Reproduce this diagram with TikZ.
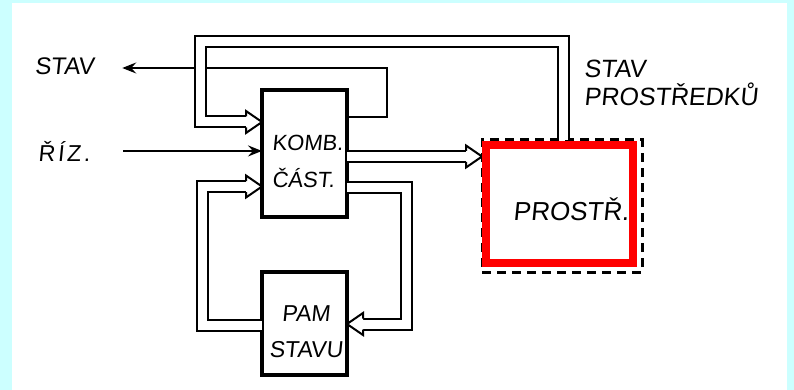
\documentclass[tikz,border=0pt]{standalone}
\usepackage{fontspec}
\newfontfamily\hand[FakeSlant=0.1]{Liberation Sans}
\usetikzlibrary{arrows.meta}
\definecolor{bgcyan}{RGB}{204,255,255}

\begin{document}
\begin{tikzpicture}[x=1pt, y=-1pt,
    box/.style={draw, line width=4pt, outer sep=0pt, inner sep=0pt},
    txt/.style 2 args={inner sep=0pt, font=\hand\fontsize{#1}{#2}\selectfont},
    sig/.style={line width=2pt, -{Stealth[length=14pt, width=11pt, inset=5pt]}},
    bus/.style={double, double distance=9pt, line width=2pt, shorten >=14pt},
    bushead/.pic={\filldraw[fill=white, line width=2pt, line join=miter]
        (-16,5.5) -- (-16,11) -- (0,0) -- (-16,-11) -- (-16,-5.5);}
]
    \useasboundingbox (0,0) rectangle (794,390);
    \fill[bgcyan] (0,0) rectangle (794,390);
    \fill[white] (12,3) rectangle (787,390);
    %
    \node[box, minimum width=85pt, minimum height=127pt] (komb) at (304.5,153.5) {};
    \node[box, minimum width=85pt, minimum height=103pt] (pam) at (304.5,323.5) {};
    \node[draw, line width=3pt, dash pattern=on 9pt off 6pt, outer sep=0pt,
          minimum width=160pt, minimum height=132pt] (prostr) at (562,206) {};
    %
    \node[txt={24}{24}] (stav) at (64.5,66.5) {STAV};
    \node[txt={23}{23}, anchor=base west] (riz) at (38,161) {\addfontfeature{LetterSpace=12}ŘÍZ.};
    \node[txt={22}{37}, align=left] (kombtxt) at (307.5,161) {KOMB.\\ČÁST.};
    \node[txt={23}{36}, align=center] (pamtxt) at (306,331.5) {PAM\\STAVU};
    \node[txt={25}{28}, align=left, anchor=west] (stavpr) at (584,83) {STAV\\PROSTŘEDKŮ};
    \node[txt={26}{26}, anchor=base] (prostrtxt) at (571,220) {PROSTŘ.};
    %
    \draw[sig] ([yshift=36.5pt]komb.east) -| (387,68) -- ([xshift=28pt, yshift=-1.5pt]stav.east);
    \draw[sig] ([xshift=33pt]riz.east) -- (riz.east -| komb.west);
    %
    \draw[bus] ([xshift=1pt]prostr.north) |- (200.5,41.5) |- ([yshift=31.5pt]komb.west);
    \pic at ([yshift=31.5pt]komb.west) {bushead};
    \draw[bus] ([yshift=-3pt]komb.east) -- ([yshift=-3pt]komb.east -| prostr.west);
    \pic at ([yshift=-3pt]komb.east -| prostr.west) {bushead};
    \draw[bus] ([yshift=-1.5pt]pam.west) -| (202.5,186.5) -- ([yshift=-33pt]komb.west);
    \pic at ([yshift=-33pt]komb.west) {bushead};
    \draw[bus] ([yshift=-34pt]komb.east) -| (406,324) -- ([yshift=-0.5pt]pam.east);
    \pic[rotate=180] at ([yshift=-0.5pt]pam.east) {bushead};
    %
    \node[draw=red, line width=8pt, minimum width=147pt, minimum height=118pt] (mark) at (559.5,204) {};
\end{tikzpicture}
\end{document}
